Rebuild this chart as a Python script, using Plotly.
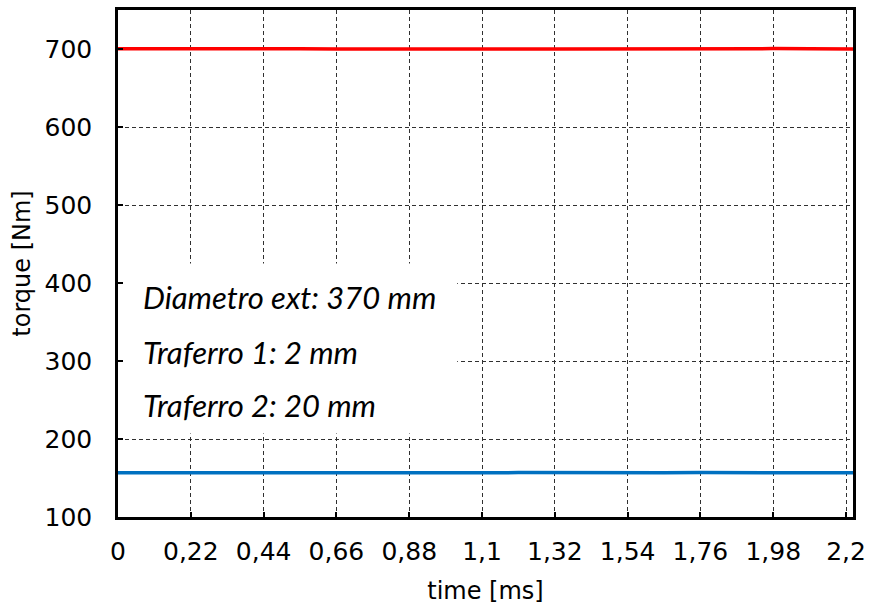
import plotly.graph_objects as go

# Time samples [ms] and torque [Nm] for the two configurations
time_ms = [0.0, 0.11, 0.22, 0.33, 0.44, 0.55, 0.66, 0.77, 0.88, 0.99, 1.1,
           1.21, 1.32, 1.43, 1.54, 1.65, 1.76, 1.87, 1.98, 2.09, 2.2, 2.221]
torque_high = [700.2, 700.0, 700.3, 699.9, 699.8, 700.2, 700.1, 700.3, 700.0, 700.2, 699.9,
               700.1, 700.0, 700.2, 699.8, 700.1, 700.3, 700.6, 700.5, 700.2, 700.0, 700.0]
torque_low = [156.6, 156.8, 156.9, 157.3, 157.1, 156.8, 156.6, 156.9, 157.0, 156.8, 156.7,
              156.9, 156.6, 156.7, 156.9, 156.8, 156.9, 156.8, 156.7, 156.6, 156.6, 156.6]

x_ticks = [0, 0.22, 0.44, 0.66, 0.88, 1.1, 1.32, 1.54, 1.76, 1.98, 2.2]
x_ticktext = ["0", "0,22", "0,44", "0,66", "0,88", "1,1", "1,32", "1,54", "1,76", "1,98", "2,2"]
y_ticks = [100, 200, 300, 400, 500, 600, 700]

notes = ["Diametro ext: 370 mm", "Traferro 1: 2 mm", "Traferro 2: 20 mm"]
note_y = [382, 312, 243]

fig = go.Figure()
fig.add_trace(go.Scatter(x=time_ms, y=torque_high, mode="lines",
                         line=dict(color="#FF0000", width=3.5), showlegend=False))
fig.add_trace(go.Scatter(x=time_ms, y=torque_low, mode="lines",
                         line=dict(color="#0070C0", width=3.5), showlegend=False))

# white panel behind the parameter notes
fig.add_shape(type="rect", xref="x", yref="y", x0=0, x1=1.025, y0=207, y1=425,
              fillcolor="white", line=dict(width=0), layer="between")

for txt, yv in zip(notes, note_y):
    fig.add_annotation(x=0.07, y=yv, xref="x", yref="y", text=txt, showarrow=False,
                       xanchor="left", yanchor="middle",
                       font=dict(family="Lato", size=31, color="black", style="italic"))

tick_font = dict(family="DejaVu Sans", size=25, color="black")
title_font = dict(family="DejaVu Sans", size=24, color="black")

fig.update_xaxes(range=[0, 2.221], tickvals=x_ticks, ticktext=x_ticktext,
                 showgrid=True, gridcolor="#303030", gridwidth=1, griddash="4px,3px",
                 showline=True, linecolor="black", linewidth=2.5, mirror=True,
                 ticks="inside", ticklen=5, tickwidth=2, tickcolor="black",
                 tickfont=tick_font, zeroline=False, ticklabelstandoff=10,
                 title=dict(text="time [ms]", font=title_font, standoff=18))
fig.update_yaxes(range=[100, 750], tickvals=y_ticks,
                 showgrid=True, gridcolor="#303030", gridwidth=1, griddash="4px,3px",
                 showline=True, linecolor="black", linewidth=2.5, mirror=True,
                 ticks="inside", ticklen=5, tickwidth=2, tickcolor="black",
                 tickfont=tick_font, zeroline=False, ticklabelstandoff=18,
                 title=dict(text="torque [Nm]", font=title_font, standoff=8))

fig.update_layout(width=875, height=613, plot_bgcolor="white", paper_bgcolor="white",
                  margin=dict(l=118, r=22, t=7, b=96), separators=",.")

fig.write_html("out.html")
